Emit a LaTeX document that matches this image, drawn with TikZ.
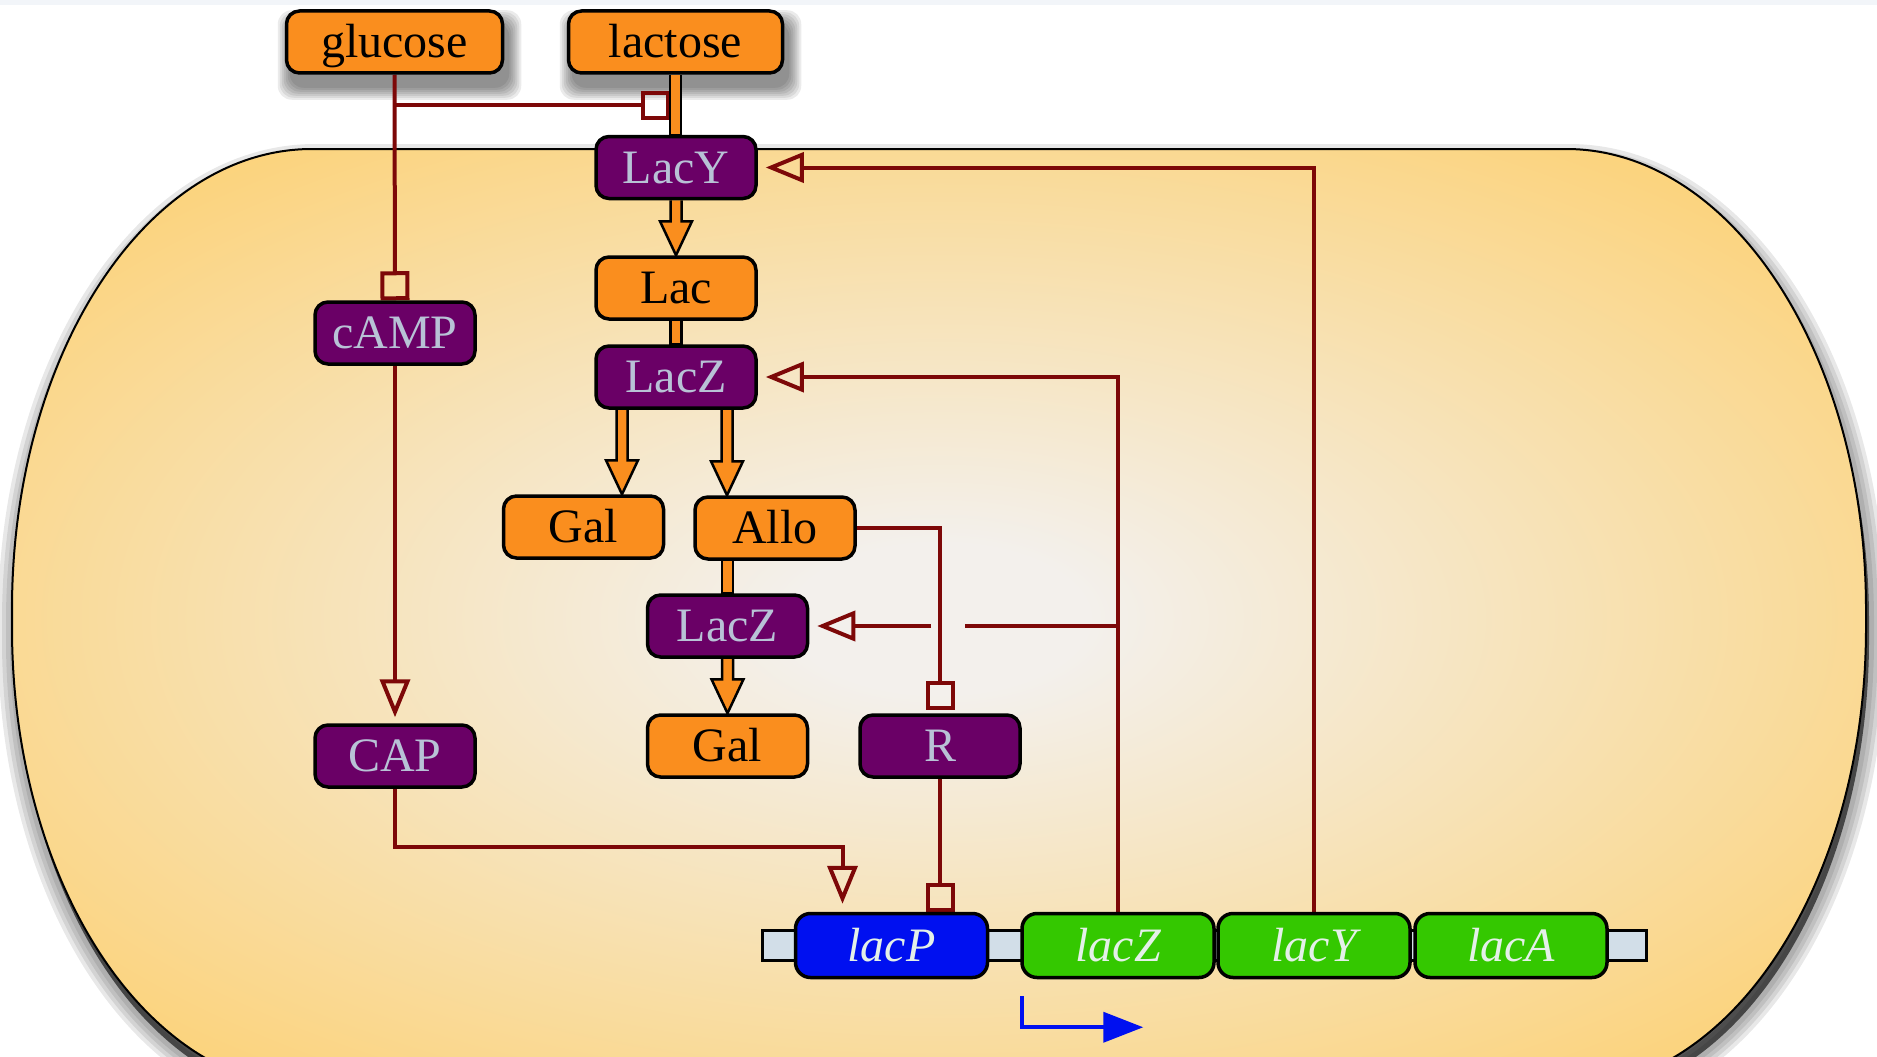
\documentclass[tikz,border=0pt]{standalone}
\usepackage{fontspec}
\setmainfont{Liberation Serif}
\usetikzlibrary{arrows.meta,calc}
\pgfdeclarelayer{cell}
\pgfdeclarelayer{conn}
\pgfsetlayers{cell,conn,main}
\definecolor{corange}{RGB}{250,142,30}
\definecolor{cpurple}{RGB}{106,0,102}
\definecolor{cptext}{RGB}{184,194,214}
\definecolor{cred}{RGB}{125,8,8}
\definecolor{cgreen}{RGB}{52,200,0}
\definecolor{cblue}{RGB}{0,16,240}
\definecolor{cgtext}{RGB}{228,240,232}
\definecolor{cspacer}{RGB}{210,222,232}
\definecolor{celledge}{RGB}{252,210,120}
\definecolor{cellmid}{RGB}{243,240,236}
\definecolor{topband}{RGB}{242,245,249}
\pgfdeclareradialshading{cellrad}{\pgfpoint{0bp}{0bp}}{color(0bp)=(cellmid); color(4bp)=(cellmid); color(32bp)=(celledge); color(50bp)=(celledge)}
\def\cellpath{(312,149) -- (1566,149) arc[start angle=-90,end angle=0,x radius=300,y radius=460] -- (1866,628) arc[start angle=0,end angle=90,x radius=300,y radius=460] -- (312,1088) arc[start angle=90,end angle=180,x radius=300,y radius=460] -- (12,609) arc[start angle=180,end angle=270,x radius=300,y radius=460] -- cycle}
\newcommand\oarrow[2]{\path[oflow] let \p1=#1, \p2=#2 in (\x1-5.5pt,\y1) -- (\x1-5.5pt,\y2+34pt) -- (\x1-16pt,\y2+34pt) -- (\x1,\y2) -- (\x1+16pt,\y2+34pt) -- (\x1+5.5pt,\y2+34pt) -- (\x1+5.5pt,\y1);}
\newcommand\oline[2]{\path[oflow] let \p1=#1, \p2=#2 in (\x1-5.5pt,\y1) -- (\x1-5.5pt,\y2) -- (\x1+5.5pt,\y2) -- (\x1+5.5pt,\y1);}
\tikzset{
  box/.style={rectangle, rounded corners=13pt, draw=black, line width=3.5pt, minimum width=160pt, minimum height=62pt, inner sep=0pt, font=\fontsize{48}{52}\selectfont, text height=31pt, text depth=0pt},
  obox/.style={box, fill=corange, text=black},
  pbox/.style={box, fill=cpurple, text=cptext},
  gene/.style={box, fill=cgreen, text=cgtext, rounded corners=15pt, minimum width=192pt, minimum height=64pt, font=\fontsize{48}{52}\selectfont\itshape},
  spacer/.style={rectangle, draw=black, line width=3pt, fill=cspacer, minimum width=884pt, minimum height=30pt, inner sep=0pt},
  oflow/.style={fill=corange, draw=black, line width=2.5pt, line join=miter},
  redline/.style={draw=cred, line width=4pt},
  act/.style={redline, -{Triangle[open, length=38pt, width=30pt]}, shorten >=8pt},
  inh/.style={redline, -{Square[open, length=29pt, width=29pt]}},
  promo/.style={draw=cblue, line width=4pt, -{Triangle[length=40pt, width=30pt]}},
}
\begin{document}
\begin{tikzpicture}[x=1pt,y=-1pt]
\useasboundingbox (0,0) rectangle (1877,1057);
\begin{pgfonlayer}{cell}
  \clip (0,0) rectangle (1877,1057);
  \fill[topband] (0,0) rectangle (1877,5);
  \foreach \w in {34,26,18,10} {\draw[black, opacity=0.09, line width=\w pt, shift={(3,12)}] \cellpath;}
  \fill[black, opacity=0.6, shift={(3,12)}] \cellpath;
  \shade[shading=cellrad] \cellpath;
  \draw[black, line width=2pt] \cellpath;
\end{pgfonlayer}

\node[obox, minimum width=216pt] (glucose) at (394.5,42) {glucose};
\node[obox, minimum width=214pt] (lactose) at (675.5,42) {lactose};
\node[pbox] (LacY) at (676,167.5) {LacY};
\node[obox] (Lac) at (676,288) {Lac};
\node[pbox] (LacZa) at (676,377) {LacZ};
\node[obox] (Gal1) at (583.5,527) {Gal};
\node[obox] (Allo) at (775,528) {Allo};
\node[pbox] (LacZb) at (727.5,626) {LacZ};
\node[obox] (Gal2) at (727.5,746) {Gal};
\node[pbox] (R) at (940,746) {R};
\node[pbox] (cAMP) at (395,333) {cAMP};
\node[pbox] (CAP) at (395,756) {CAP};
\node[spacer] (dna) at (1204.5,945.5) {};
\node[gene, fill=cblue] (lacP) at (891.5,945.5) {lacP};
\node[gene] (lacZ) at (1118,945.5) {lacZ};
\node[gene] (lacY) at (1314,945.5) {lacY};
\node[gene] (lacA) at (1511,945.5) {lacA};

\begin{pgfonlayer}{conn}
  \foreach \k in {0,...,6} {
    \fill[black, opacity=0.08, rounded corners=14pt] ($(glucose.north west)+(5-2*\k,13-2*\k)$) rectangle ($(glucose.south east)+(5+2*\k,13+2*\k)$);
    \fill[black, opacity=0.08, rounded corners=14pt] ($(lactose.north west)+(5-2*\k,13-2*\k)$) rectangle ($(lactose.south east)+(5+2*\k,13+2*\k)$);
  }
  % glucose inhibitions
  \coordinate (gj) at (glucose.south |- 0,105);
  \coordinate (lj) at ($(lactose.south |- gj)+(-5.5,0)$);
  \draw[inh] (glucose.south) -- (cAMP.north);
  \draw[inh] (gj) -- (lj);
  % orange flows
  \oline{(lactose.south)}{(lactose.south |- LacY.north)}
  \oarrow{(LacY.south)}{(Lac.north)}
  \oline{(Lac.south)}{(LacZa.north)}
  \coordinate (zl) at ($(LacZa.south)+(-54,0)$);
  \coordinate (zr) at ($(LacZa.south)+(51,0)$);
  \oarrow{(zl)}{(zl |- Gal1.north)}
  \oarrow{(zr)}{(zr |- Allo.north)}
  \oline{(LacZb.north |- Allo.south)}{(LacZb.north)}
  \oarrow{(LacZb.south)}{(Gal2.north)}
  % CAP
  \draw[act, shorten >=6pt] (cAMP.south) -- (CAP.north);
  \coordinate (cpj) at ($(lacP.north)+(-49,0)$);
  \draw[act] (CAP.south) |- (cpj |- 0,847) -- (cpj);
  % repressor
  \draw[inh, shorten >=3pt] (Allo.east) -| (R.north);
  \draw[inh] (R.south) -- (R.south |- lacP.north);
  % gene products
  \draw[act] (lacY.north) |- (LacY.east);
  \draw[act] (lacZ.north) |- (LacZa.east);
  \coordinate (zb) at (lacZ.north |- LacZb.east);
  \coordinate (gapR) at ($(R.north |- LacZb.east)+(25,0)$);
  \coordinate (gapL) at ($(R.north |- LacZb.east)+(-9,0)$);
  \draw[redline] (zb) -- (gapR);
  \draw[act] (gapL) -- (LacZb.east);
  % promoter arrow
  \coordinate (ps) at ($(lacZ.south west)+(2,17)$);
  \draw[promo] (ps) |- ($(ps)+(121,31)$);
\end{pgfonlayer}
\end{tikzpicture}
\end{document}
